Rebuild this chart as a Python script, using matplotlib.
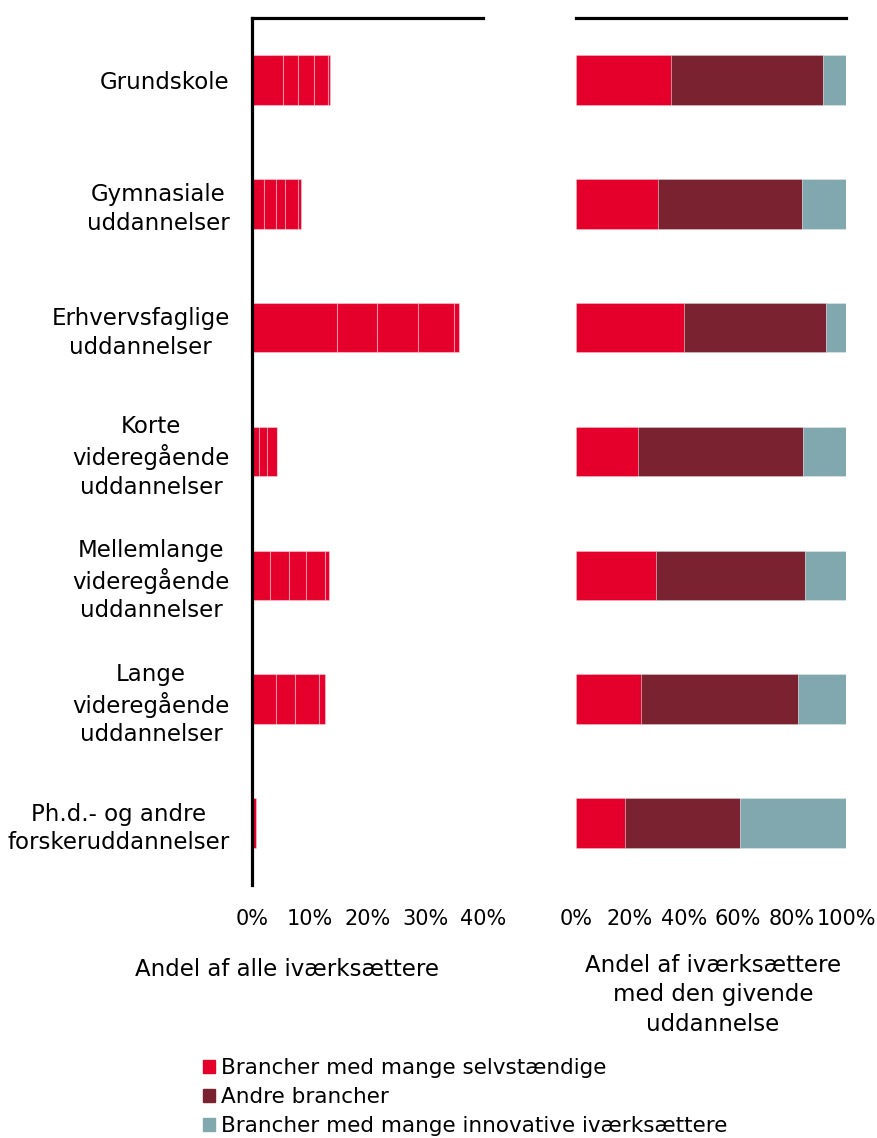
import matplotlib
matplotlib.use("Agg")
import matplotlib.pyplot as plt
from matplotlib.patches import Patch

# categories, top to bottom
categories = [
    "Grundskole",
    "Gymnasiale\nuddannelser",
    "Erhvervsfaglige\nuddannelser",
    "Korte\nvideregående\nuddannelser",
    "Mellemlange\nvideregående\nuddannelser",
    "Lange\nvideregående\nuddannelser",
    "Ph.d.- og andre\nforskeruddannelser",
]

# left panel: share of all entrepreneurs (%), stacked sub-industries
share_all_segments = [
    [5.4, 2.6, 2.8, 2.4, 0.35],
    [2.1, 2.0, 1.7, 2.25, 0.4],
    [14.8, 6.9, 7.1, 6.1, 1.0],
    [1.25, 1.4, 1.65, 0.1],
    [3.2, 3.2, 2.95, 3.35, 0.6],
    [4.2, 3.3, 4.15, 1.0],
    [0.75],
]

# right panel: share within each education group (%)
mange_selvst = [35.3, 30.4, 40.1, 23.1, 29.6, 24.2, 18.1]
andre = [56.1, 53.4, 52.6, 60.9, 55.2, 58.0, 42.8]
innovative = [8.6, 16.2, 7.3, 16.0, 15.2, 17.8, 39.1]

series_labels = [
    "Brancher med mange selvstændige",
    "Andre brancher",
    "Brancher med mange innovative iværksættere",
]
colors = ["#e4002b", "#7a2230", "#80a8ae"]

left_ticks = [0, 10, 20, 30, 40]
right_ticks = [0, 20, 40, 60, 80, 100]

plt.rcParams["font.family"] = ["DejaVu Sans"]
plt.rcParams["font.size"] = 15

fig = plt.figure(figsize=(8.77, 11.38), dpi=100)
ax1 = fig.add_axes([0.2873, 0.2223, 0.2634, 0.7619])
ax2 = fig.add_axes([0.6568, 0.2223, 0.3079, 0.7619])

y = list(range(len(categories)))
bar_h = 0.4

for i, segs in enumerate(share_all_segments):
    left = 0.0
    for s in segs:
        ax1.barh(i, s, left=left, height=bar_h, color=colors[0],
                 edgecolor=(1, 1, 1, 0.35), linewidth=0.8)
        left += s

lefts = [0.0] * len(categories)
for vals, col in zip([mange_selvst, andre, innovative], colors):
    ax2.barh(y, vals, left=lefts, height=bar_h, color=col,
             edgecolor=(1, 1, 1, 0.3), linewidth=0.6)
    lefts = [a + b for a, b in zip(lefts, vals)]

for ax in (ax1, ax2):
    ax.set_ylim(len(categories) - 0.5, -0.5)
    ax.spines["right"].set_visible(False)
    ax.spines["bottom"].set_visible(False)
    ax.spines["top"].set_linewidth(2.3)
    ax.tick_params(axis="both", length=0)
    ax.tick_params(axis="x", pad=17, labelsize=15)

ax1.spines["left"].set_linewidth(2.3)
ax2.spines["left"].set_visible(False)

ax1.set_xlim(0, 40)
ax1.set_xticks(left_ticks)
ax1.set_xticklabels([f"{t}%" for t in left_ticks])
ax1.set_yticks(y)
ax1.set_yticklabels(categories, fontsize=16.5)
ax1.tick_params(axis="y", pad=16)
for t in ax1.get_yticklabels():
    t.set_multialignment("center")
    t.set_linespacing(1.3)

ax2.set_xlim(0, 100)
ax2.set_xticks(right_ticks)
ax2.set_xticklabels([f"{t}%" for t in right_ticks])
ax2.set_yticks([])

fig.text(287 / 877, 1 - 970 / 1138, "Andel af alle iværksættere",
         ha="center", va="center", fontsize=16.5)
fig.text(713 / 877, 1 - 995 / 1138,
         "Andel af iværksættere\nmed den givende\nuddannelse",
         ha="center", va="center", linespacing=1.35, fontsize=16.5)

handles = [Patch(color=c) for c in colors]
fig.legend(handles, series_labels, loc="upper left",
           bbox_to_anchor=(203 / 877, 1 - 1058 / 1138), frameon=False,
           fontsize=15.5, handlelength=0.55, handleheight=0.55,
           handletextpad=0.3, labelspacing=0.42, borderaxespad=0,
           borderpad=0)

fig.savefig("out.png", dpi=100)
